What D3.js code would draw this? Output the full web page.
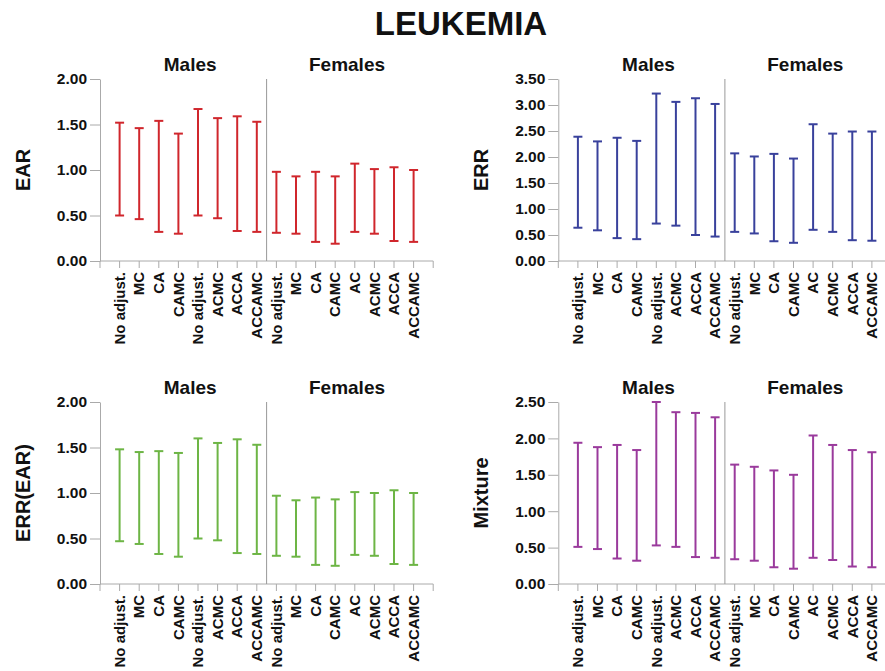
<!DOCTYPE html>
<html>
<head>
<meta charset="utf-8">
<script src="https://cdn.jsdelivr.net/npm/d3@7"></script>
<style>
  body { margin: 0; background: #fff; }
  text { font-family: "Liberation Sans", Arial, sans-serif; font-weight: bold; fill: #111; }
  .axis path, .axis line { stroke: #aaa; stroke-width: 1; }
</style>
</head>
<body>
<script>
var groups = ['Males', 'Females'];
var labels = ['No adjust.', 'MC', 'CA', 'CAMC', 'No adjust.', 'ACMC', 'ACCA', 'ACCAMC',
              'No adjust.', 'MC', 'CA', 'CAMC', 'AC', 'ACMC', 'ACCA', 'ACCAMC'];

var earLow  = [0.50, 0.46, 0.32, 0.30, 0.50, 0.47, 0.33, 0.32, 0.31, 0.30, 0.21, 0.19, 0.32, 0.30, 0.22, 0.21];
var earHigh = [1.52, 1.46, 1.54, 1.40, 1.67, 1.57, 1.59, 1.53, 0.98, 0.93, 0.98, 0.93, 1.07, 1.01, 1.03, 1.00];

var errLow  = [0.64, 0.59, 0.44, 0.42, 0.72, 0.68, 0.50, 0.47, 0.56, 0.53, 0.38, 0.35, 0.60, 0.56, 0.40, 0.39];
var errHigh = [2.39, 2.30, 2.37, 2.31, 3.22, 3.06, 3.13, 3.02, 2.07, 2.01, 2.06, 1.97, 2.63, 2.45, 2.49, 2.49];

var errEarLow  = [0.47, 0.44, 0.33, 0.30, 0.50, 0.48, 0.34, 0.33, 0.31, 0.30, 0.21, 0.20, 0.32, 0.31, 0.22, 0.21];
var errEarHigh = [1.48, 1.45, 1.46, 1.44, 1.60, 1.55, 1.59, 1.53, 0.97, 0.92, 0.95, 0.93, 1.01, 1.00, 1.03, 1.00];

var mixLow  = [0.51, 0.48, 0.35, 0.32, 0.53, 0.51, 0.37, 0.36, 0.34, 0.32, 0.23, 0.21, 0.36, 0.33, 0.24, 0.23];
var mixHigh = [1.94, 1.88, 1.91, 1.84, 2.50, 2.36, 2.35, 2.29, 1.64, 1.61, 1.56, 1.50, 2.04, 1.91, 1.84, 1.81];

var width = 885, height = 671;
var step = 19.6;
var plotH = 182;

var svg = d3.select('body').append('svg')
    .attr('width', width)
    .attr('height', height);

svg.append('text')
    .attr('x', 461)
    .attr('y', 35)
    .attr('text-anchor', 'middle')
    .style('font-size', '33px')
    .text('LEUKEMIA');

var panels = [
    { name: 'EAR',      color: '#d0262c', max: 2.0, low: earLow,    high: earHigh,    x: 100,   y: 79  },
    { name: 'ERR',      color: '#39419c', max: 3.5, low: errLow,     high: errHigh,    x: 558.3, y: 79  },
    { name: 'ERR(EAR)', color: '#6db545', max: 2.0, low: errEarLow, high: errEarHigh, x: 100,   y: 402 },
    { name: 'Mixture',  color: '#9a3a9c', max: 2.5, low: mixLow,     high: mixHigh,    x: 558.3, y: 402 }
];

panels.forEach(function(p) {
    var g = svg.append('g')
        .attr('transform', 'translate(' + p.x + ',' + p.y + ')');

    var x = d3.scaleBand()
        .domain(d3.range(labels.length))
        .range([0, step * (labels.length + 1)])
        .paddingInner(0)
        .paddingOuter(0.5);

    var y = d3.scaleLinear()
        .domain([0, p.max])
        .range([plotH, 0]);

    var cx = function(i) { return x(i) + x.bandwidth() / 2; };

    // y axis
    g.append('g')
        .attr('class', 'axis')
        .call(d3.axisLeft(y)
            .tickValues(d3.range(0, p.max + 0.01, 0.5))
            .tickFormat(d3.format('.2f'))
            .tickSize(10)
            .tickSizeOuter(0)
            .tickPadding(3))
        .selectAll('text')
        .style('font-size', '15.5px');

    // x axis
    var xa = g.append('g')
        .attr('class', 'axis')
        .attr('transform', 'translate(0,' + plotH + ')')
        .call(d3.axisBottom(x)
            .tickSize(7)
            .tickSizeOuter(7)
            .tickFormat(function(i) { return labels[i]; }));

    xa.selectAll('text')
        .style('font-size', '15px')
        .attr('text-anchor', 'end')
        .attr('transform', 'rotate(-90)')
        .attr('x', -11)
        .attr('y', 0)
        .attr('dy', '0.35em');

    xa.selectAll('.domain').attr('d', 'M0,7V0H' + (step * (labels.length + 1)) + 'V7');

    // divider between groups
    var mid = step * 8.5;
    g.append('line')
        .attr('x1', mid).attr('x2', mid)
        .attr('y1', 0).attr('y2', plotH)
        .attr('stroke', '#999')
        .attr('stroke-width', 1);

    // group headers
    groups.forEach(function(name, k) {
        g.append('text')
            .attr('x', (cx(k * 8) + cx(k * 8 + 7)) / 2 + 2)
            .attr('y', -8)
            .attr('text-anchor', 'middle')
            .style('font-size', '19px')
            .text(name);
    });

    // y title
    g.append('text')
        .attr('transform', 'translate(-70,' + (plotH / 2) + ') rotate(-90)')
        .attr('text-anchor', 'middle')
        .style('font-size', '20px')
        .text(p.name);

    // error bars
    var bars = g.selectAll('.bar')
        .data(d3.range(labels.length))
      .enter().append('g')
        .attr('class', 'bar')
        .attr('stroke', p.color)
        .attr('stroke-width', 2);

    bars.append('line')
        .attr('x1', cx).attr('x2', cx)
        .attr('y1', function(i) { return y(p.low[i]); })
        .attr('y2', function(i) { return y(p.high[i]); });

    bars.append('line')
        .attr('x1', function(i) { return cx(i) - 4.5; })
        .attr('x2', function(i) { return cx(i) + 4.5; })
        .attr('y1', function(i) { return y(p.high[i]); })
        .attr('y2', function(i) { return y(p.high[i]); });

    bars.append('line')
        .attr('x1', function(i) { return cx(i) - 4.5; })
        .attr('x2', function(i) { return cx(i) + 4.5; })
        .attr('y1', function(i) { return y(p.low[i]); })
        .attr('y2', function(i) { return y(p.low[i]); });
});
</script>
</body>
</html>
